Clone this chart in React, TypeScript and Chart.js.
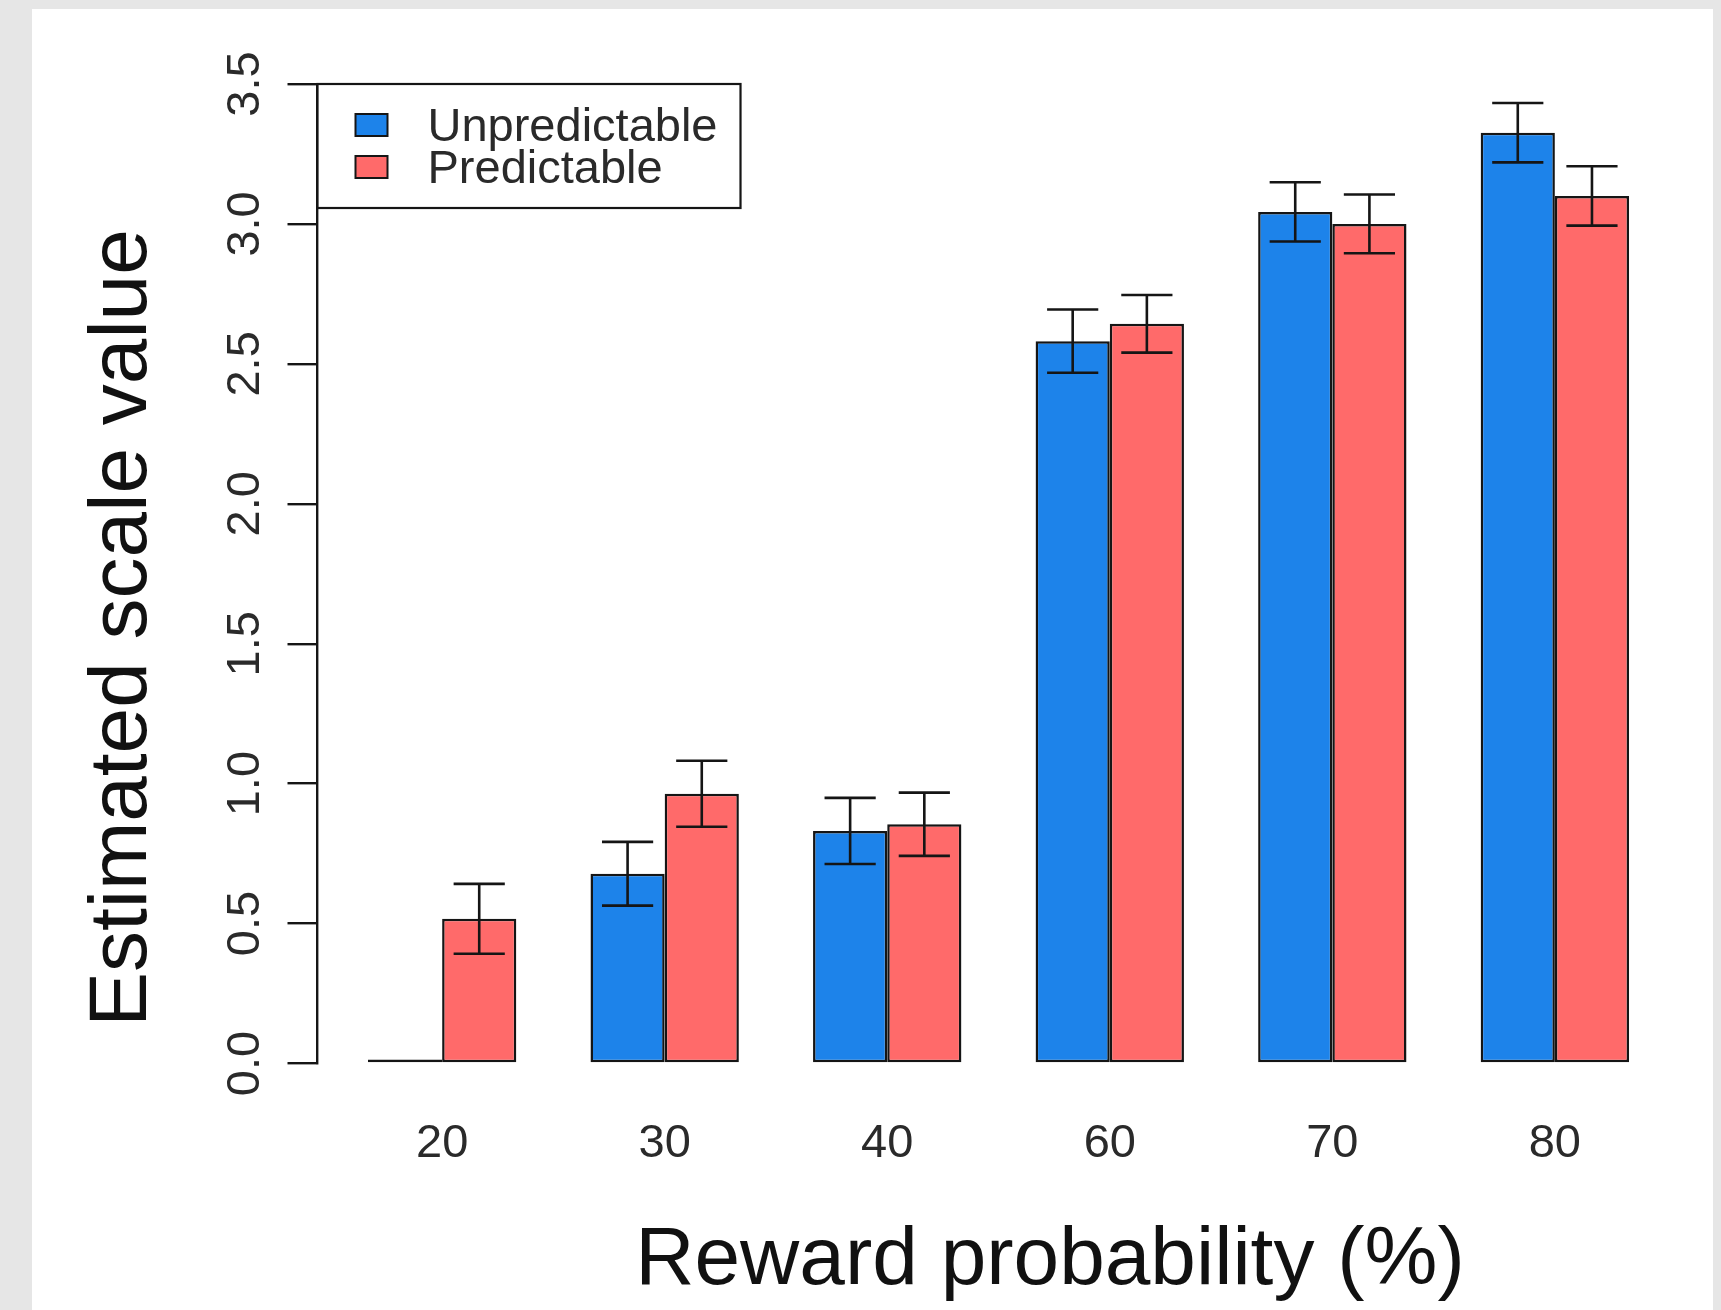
import React, { useEffect, useRef } from 'react';
import { Chart, registerables } from 'chart.js';

Chart.register(...registerables);

// ---- data ----
const categories = ['20', '30', '40', '60', '70', '80'];
const seriesNames = ['Unpredictable', 'Predictable'];
const unpredictable = [0, 0.678, 0.831, 2.581, 3.043, 3.326];
const predictable = [0.517, 0.964, 0.855, 2.643, 3.0, 3.1];
const unpredictableSE = [0, 0.114, 0.118, 0.113, 0.106, 0.106];
const predictableSE = [0.125, 0.118, 0.113, 0.103, 0.105, 0.106];
const yTickValues = [0, 0.5, 1, 1.5, 2, 2.5, 3, 3.5];
const xTitle = 'Reward probability (%)';
const yTitle = 'Estimated scale value';

const FONT = '"Liberation Sans", Arial, Helvetica, sans-serif';
const BLUE = '#1d83ea';
const RED = '#ff6a6a';
const INK = '#151515';

const overlayPlugin = {
  id: 'overlay',
  afterDatasetsDraw(chart: any) {
    const ctx = chart.ctx;
    const y = chart.scales.y;
    chart.data.datasets.forEach((ds: any, i: number) => {
      const meta = chart.getDatasetMeta(i);
      meta.data.forEach((el: any, j: number) => {
        const se = ds.errors[j];
        if (!se) return;
        const v = ds.data[j].y;
        const top = y.getPixelForValue(v + se);
        const bot = y.getPixelForValue(v - se);
        const half = el.width * 0.345;
        ctx.save();
        ctx.strokeStyle = INK;
        ctx.lineWidth = 2.6;
        ctx.beginPath();
        ctx.moveTo(el.x, top);
        ctx.lineTo(el.x, bot);
        ctx.moveTo(el.x - half, top);
        ctx.lineTo(el.x + half, top);
        ctx.moveTo(el.x - half, bot);
        ctx.lineTo(el.x + half, bot);
        ctx.stroke();
        ctx.restore();
      });
    });
  },
  afterDraw(chart: any) {
    const ctx = chart.ctx;
    const ca = chart.chartArea;
    const y = chart.scales.y;

    // y tick labels (rotated, R style)
    ctx.save();
    ctx.fillStyle = '#2a2a2a';
    ctx.font = `47px ${FONT}`;
    ctx.textAlign = 'center';
    ctx.textBaseline = 'alphabetic';
    y.ticks.forEach((t: any) => {
      const py = y.getPixelForValue(t.value);
      ctx.save();
      ctx.translate(ca.left - 59, py);
      ctx.rotate(-Math.PI / 2);
      ctx.fillText(Number(t.value).toFixed(1), 0, 0);
      ctx.restore();
    });
    ctx.restore();

    // axis titles
    ctx.save();
    ctx.fillStyle = '#111';
    ctx.font = `82px ${FONT}`;
    ctx.textAlign = 'center';
    ctx.textBaseline = 'alphabetic';
    ctx.fillText(xTitle, ca.left + 732.5, ca.bottom + 220.5);
    ctx.translate(ca.left - 171.5, ca.top + 544);
    ctx.rotate(-Math.PI / 2);
    ctx.fillText(yTitle, 0, 0);
    ctx.restore();

    // legend box
    ctx.save();
    ctx.font = `47px ${FONT}`;
    const labels = chart.data.datasets.map((d: any) => d.label);
    const maxW = Math.max(...labels.map((l: string) => ctx.measureText(l).width));
    const bx = ca.left;
    const by = ca.top;
    const textX = bx + 110;
    const bw = textX - bx + maxW + 23;
    const bh = 124;
    ctx.fillStyle = '#ffffff';
    ctx.fillRect(bx, by, bw, bh);
    ctx.strokeStyle = INK;
    ctx.lineWidth = 2.2;
    ctx.strokeRect(bx, by, bw, bh);
    chart.data.datasets.forEach((d: any, i: number) => {
      const cy = by + 41 + i * 42;
      ctx.fillStyle = d.backgroundColor;
      ctx.fillRect(bx + 38, cy - 11, 32, 22);
      ctx.strokeStyle = INK;
      ctx.lineWidth = 2;
      ctx.strokeRect(bx + 38, cy - 11, 32, 22);
      ctx.fillStyle = '#2a2a2a';
      ctx.textAlign = 'left';
      ctx.textBaseline = 'middle';
      ctx.fillText(d.label, textX, cy + 3);
    });
    ctx.restore();
  },
};

export default function App() {
  const ref = useRef<HTMLCanvasElement | null>(null);

  useEffect(() => {
    if (!ref.current) return;
    const mk = (vals: number[]) => vals.map((v, i) => ({ x: i, y: v }));
    const chart = new Chart(ref.current, {
      type: 'bar',
      data: {
        datasets: [
          {
            label: seriesNames[0],
            data: mk(unpredictable),
            errors: unpredictableSE,
            backgroundColor: BLUE,
            borderColor: INK,
            borderWidth: 2.5,
            borderSkipped: false,
            minBarLength: 4,
          } as any,
          {
            label: seriesNames[1],
            data: mk(predictable),
            errors: predictableSE,
            backgroundColor: RED,
            borderColor: INK,
            borderWidth: 2.5,
            borderSkipped: false,
          } as any,
        ],
      },
      options: {
        animation: false,
        responsive: false,
        maintainAspectRatio: false,
        devicePixelRatio: 1,
        layout: { padding: { left: 277.5, top: 84, right: 41.5, bottom: 146.5 } },
        datasets: { bar: { categoryPercentage: 2 / 3, barPercentage: 1 } },
        plugins: { legend: { display: false }, tooltip: { enabled: false }, title: { display: false } },
        scales: {
          x: {
            type: 'linear',
            offset: false,
            min: -0.56,
            max: 5.56,
            afterBuildTicks: (axis: any) => {
              axis.ticks = categories.map((_, i) => ({ value: i }));
            },
            afterFit: (s: any) => {
              s.height = 100;
            },
            grid: { display: false, drawTicks: false, offset: false },
            border: { display: false },
            ticks: {
              autoSkip: false,
              maxRotation: 0,
              minRotation: 0,
              padding: 52,
              color: '#2a2a2a',
              font: { family: FONT, size: 47 },
              callback: (v: any) => categories[Math.round(Number(v))] ?? '',
            },
          },
          y: {
            type: 'linear',
            min: 0,
            max: 3.5,
            afterBuildTicks: (axis: any) => {
              axis.ticks = yTickValues.map((v) => ({ value: v }));
            },
            afterFit: (s: any) => {
              s.width = 40;
            },
            grid: {
              display: true,
              drawOnChartArea: false,
              drawTicks: true,
              tickLength: 30,
              color: INK,
              lineWidth: 2.4,
            },
            border: { display: true, color: INK, width: 2.4 },
            ticks: { display: false },
          },
        },
      } as any,
      plugins: [overlayPlugin],
    });
    return () => chart.destroy();
  }, []);

  return (
    <div
      style={{
        position: 'absolute',
        left: 0,
        top: 0,
        width: 1721,
        height: 1310,
        overflow: 'hidden',
        background: '#e6e6e6',
      }}
    >
      <div
        style={{
          position: 'absolute',
          left: 32,
          top: 9,
          width: 1681,
          height: 1301,
          background: '#ffffff',
        }}
      />
      <canvas
        ref={ref}
        width={1721}
        height={1310}
        style={{ position: 'absolute', left: 0, top: 0, width: 1721, height: 1310 }}
      />
    </div>
  );
}
